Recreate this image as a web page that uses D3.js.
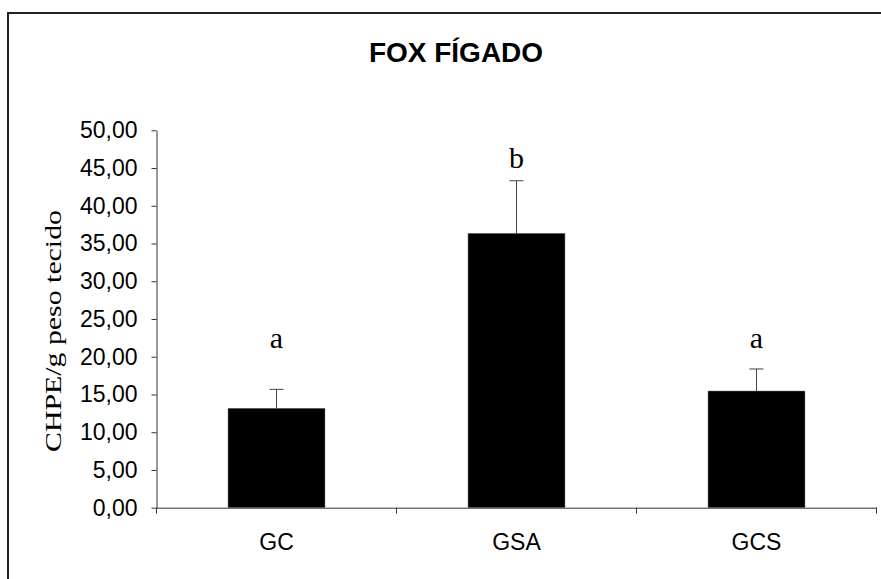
<!DOCTYPE html>
<html lang="pt">
<head>
    <meta charset="UTF-8">
    <script src="https://d3js.org/d3.v7.min.js"></script>
    <title>FOX FÍGADO</title>
    <style>
        body { margin: 0; background: #fff; }
    </style>
</head>
<body>
    <div id="chart"></div>
    <script>
        // values
        var groups = ["GC", "GSA", "GCS"];
        var means = [13.17, 36.35, 15.46];
        var errors = [2.51, 6.97, 2.92];
        var letters = ["a", "b", "a"];
        var letterLevels = [21.1, 45.0, 21.1];
        var yTicks = [0, 5, 10, 15, 20, 25, 30, 35, 40, 45, 50];

        var width = 881;
        var height = 579;
        var sans = "Arial, 'Liberation Sans', sans-serif";
        var serif = "'Times New Roman', 'Liberation Serif', serif";

        var svg = d3.select('#chart')
                    .append('svg')
                    .attr('width', width)
                    .attr('height', height);

        // outer frame (cut off at right and bottom)
        svg.append("rect")
           .attr("x", 8)
           .attr("y", 13)
           .attr("width", 920)
           .attr("height", 620)
           .attr("fill", "none")
           .attr("stroke", "#222")
           .attr("stroke-width", 2);

        svg.append("text")
           .attr("x", 456)
           .attr("y", 62)
           .attr("text-anchor", "middle")
           .attr("font-family", sans)
           .attr("font-weight", "bold")
           .attr("font-size", 28)
           .text("FOX FÍGADO");

        var x = d3.scaleBand()
                  .domain(groups)
                  .range([156.5, 876.5])
                  .paddingInner(0)
                  .paddingOuter(0);

        var y = d3.scaleLinear()
                  .domain([0, 50])
                  .range([507.7, 130.3]);

        var ptBR = d3.formatLocale({decimal: ",", thousands: ".", grouping: [3], currency: ["R$", ""]});
        var fmt = ptBR.format(".2f");

        // y axis
        var yAxis = svg.append("g")
                       .attr("transform", "translate(156.5,0)")
                       .call(d3.axisLeft(y).tickValues(yTicks).tickFormat(fmt).tickSize(5).tickPadding(14).tickSizeOuter(0));
        yAxis.selectAll("text")
             .attr("font-family", sans)
             .attr("font-size", 23)
             .attr("fill", "#000");
        yAxis.selectAll("line, path").attr("stroke", "#333");

        // x axis: labels centered, ticks at band edges
        var xAxis = svg.append("g")
                       .attr("transform", "translate(0," + y(0) + ")")
                       .call(d3.axisBottom(x).tickSize(0).tickPadding(26).tickSizeOuter(0));
        xAxis.selectAll("text")
             .attr("font-family", sans)
             .attr("font-size", 23)
             .attr("fill", "#000");
        xAxis.select("path").attr("stroke", "#333");

        var edges = groups.map(d => x(d)).concat([x.range()[1]]);
        svg.append("g")
           .selectAll("line")
           .data(edges)
           .enter()
           .append("line")
           .attr("x1", d => d)
           .attr("x2", d => d)
           .attr("y1", y(0))
           .attr("y2", y(0) + 6)
           .attr("stroke", "#333");

        var barW = x.bandwidth() * 0.404;
        var cx = d => x(d) + x.bandwidth() / 2;

        // error bars (upper only)
        var err = svg.append("g")
                     .selectAll("g")
                     .data(groups)
                     .enter()
                     .append("g");
        err.append("line")
           .attr("x1", d => cx(d))
           .attr("x2", d => cx(d))
           .attr("y1", (d, i) => y(means[i]))
           .attr("y2", (d, i) => y(means[i] + errors[i]))
           .attr("stroke", "#444");
        err.append("line")
           .attr("x1", d => cx(d) - 7)
           .attr("x2", d => cx(d) + 7)
           .attr("y1", (d, i) => y(means[i] + errors[i]))
           .attr("y2", (d, i) => y(means[i] + errors[i]))
           .attr("stroke", "#444");

        svg.append("g")
           .selectAll("rect")
           .data(groups)
           .enter()
           .append("rect")
           .attr("x", d => cx(d) - barW / 2)
           .attr("y", (d, i) => y(means[i]))
           .attr("width", barW)
           .attr("height", (d, i) => y(0) - y(means[i]))
           .attr("fill", "#000")
           .attr("stroke", "#777")
           .attr("stroke-width", 0.5);

        // significance letters
        svg.append("g")
           .selectAll("text")
           .data(groups)
           .enter()
           .append("text")
           .attr("x", d => cx(d))
           .attr("y", (d, i) => y(letterLevels[i]))
           .attr("text-anchor", "middle")
           .attr("font-family", serif)
           .attr("font-size", 30)
           .text((d, i) => letters[i]);

        // y axis title
        svg.append("text")
           .attr("transform", "translate(61,331) rotate(-90)")
           .attr("text-anchor", "middle")
           .attr("font-family", serif)
           .attr("font-size", 23)
           .attr("textLength", 242)
           .attr("lengthAdjust", "spacingAndGlyphs")
           .text("CHPE/g peso tecido");
    </script>
</body>
</html>
